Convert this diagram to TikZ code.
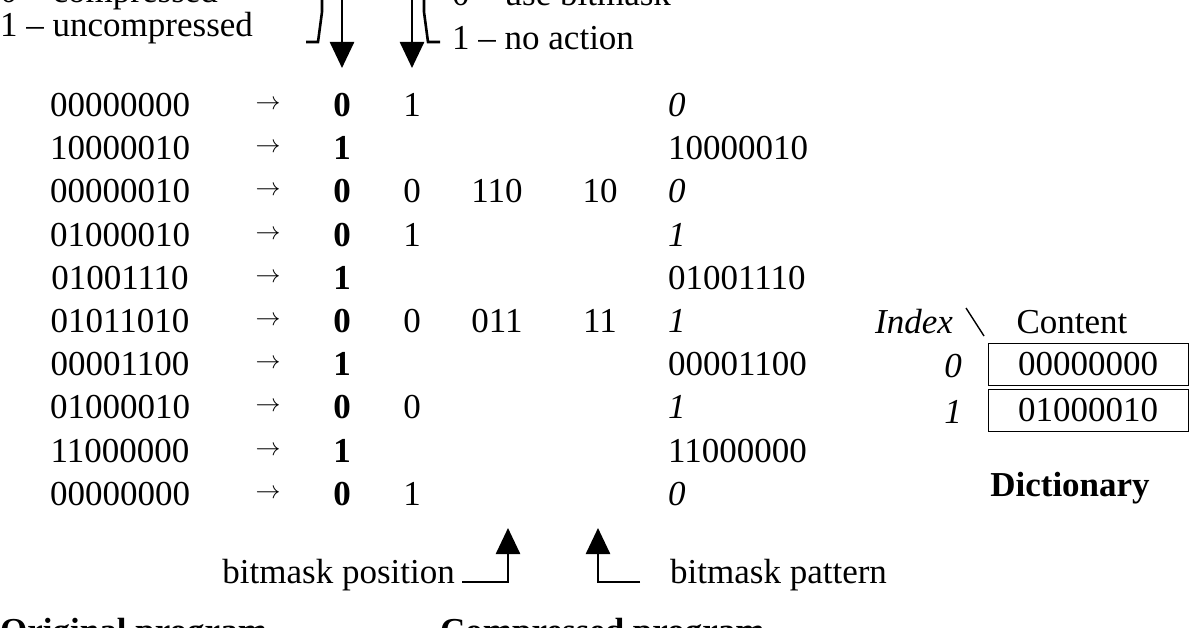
\documentclass[tikz,border=0pt]{standalone}
\usepackage{fontspec}
\setmainfont{Liberation Serif}
\usetikzlibrary{arrows.meta}
\tikzset{
	txt/.style={font=\fontsize{35}{37}\selectfont, inner sep=0pt},
	bitarrow/.style={line width=2.6pt, -{Triangle[length=26pt, width=24pt]}},
	dictbox/.style={draw, line width=0.9pt, minimum width=200pt, minimum height=42pt, inner sep=0pt, font=\fontsize{35}{37}\selectfont}
}
\begin{document}
\begin{tikzpicture}[x=1pt, y=-1pt]
	\useasboundingbox (0,0) rectangle (1196,628);
	% top legend
	\node[txt, anchor=west] (cmp) at (0,-6) {0 -- compressed};
	\node[txt, anchor=west] (unc) at (0,28) {1 -- uncompressed};
	\node[txt, anchor=west] (ubm) at (452,-6) {0 -- use bitmask};
	\node[txt, anchor=west] (noa) at (452,38) {1 -- no action};
	\coordinate (fa) at (342,68);
	\coordinate (fb) at (412,68);
	\draw[line width=2.6pt] (306,42) -- (318,42) -- (322,12) -- (322,-10);
	\draw[bitarrow] (342,-10) -- (fa);
	\draw[line width=2.6pt] (440,42) -- (428,42) -- (424,12) -- (424,-10);
	\draw[bitarrow] (412,-10) -- (fb);
	% rows
	\foreach \i/\orig/\f/\g/\pos/\pat/\out in {
		0/00000000/0/1///\textit{0},
		1/10000010/1////10000010,
		2/00000010/0/0/110/10/\textit{0},
		3/01000010/0/1///\textit{1},
		4/01001110/1////01001110,
		5/01011010/0/0/011/11/\textit{1},
		6/00001100/1////00001100,
		7/01000010/0/0///\textit{1},
		8/11000000/1////11000000,
		9/00000000/0/1///\textit{0}} {
		\pgfmathsetmacro{\yy}{105+43.2*\i}
		\node[txt] (o\i) at (120,\yy) {\orig};
		\node[txt] (r\i) at (268,\yy) {$\rightarrow$};
		\node[txt] (f\i) at (342,\yy) {\textbf{\f}};
		\node[txt] (g\i) at (412,\yy) {\g};
		\node[txt] (p\i) at (497,\yy) {\pos};
		\node[txt] (q\i) at (600,\yy) {\pat};
		\node[txt, anchor=west] (c\i) at (668,\yy) {\out};
	}
	% bottom legend
	\coordinate (pa) at (508,528);
	\coordinate (pb) at (598,528);
	\node[txt, anchor=east] (bpos) at (455,575) {bitmask position};
	\node[txt, anchor=west] (bpat) at (670,575) {bitmask pattern};
	\draw[bitarrow] (462,582) -- (508,582) -- (pa);
	\draw[bitarrow] (640,582) -- (598,582) -- (pb);
	\node[txt, anchor=west] (orig) at (0,634) {\textbf{Original program}};
	\node[txt, anchor=west] (comp) at (440,634) {\textbf{Compressed program}};
	% dictionary
	\node[txt] (idx) at (914,322) {\textit{Index}};
	\draw[line width=1.4pt] (966,308) -- (984,336);
	\node[txt] (cnt) at (1072,322) {Content};
	\node[dictbox] (d0) at (1088,364) {00000000};
	\node[dictbox] (d1) at (1088,410) {01000010};
	\node[txt] (i0) at (953,366) {\textit{0}};
	\node[txt] (i1) at (953,412) {\textit{1}};
	\node[txt] (dict) at (1070,488) {\textbf{Dictionary}};
\end{tikzpicture}
\end{document}
